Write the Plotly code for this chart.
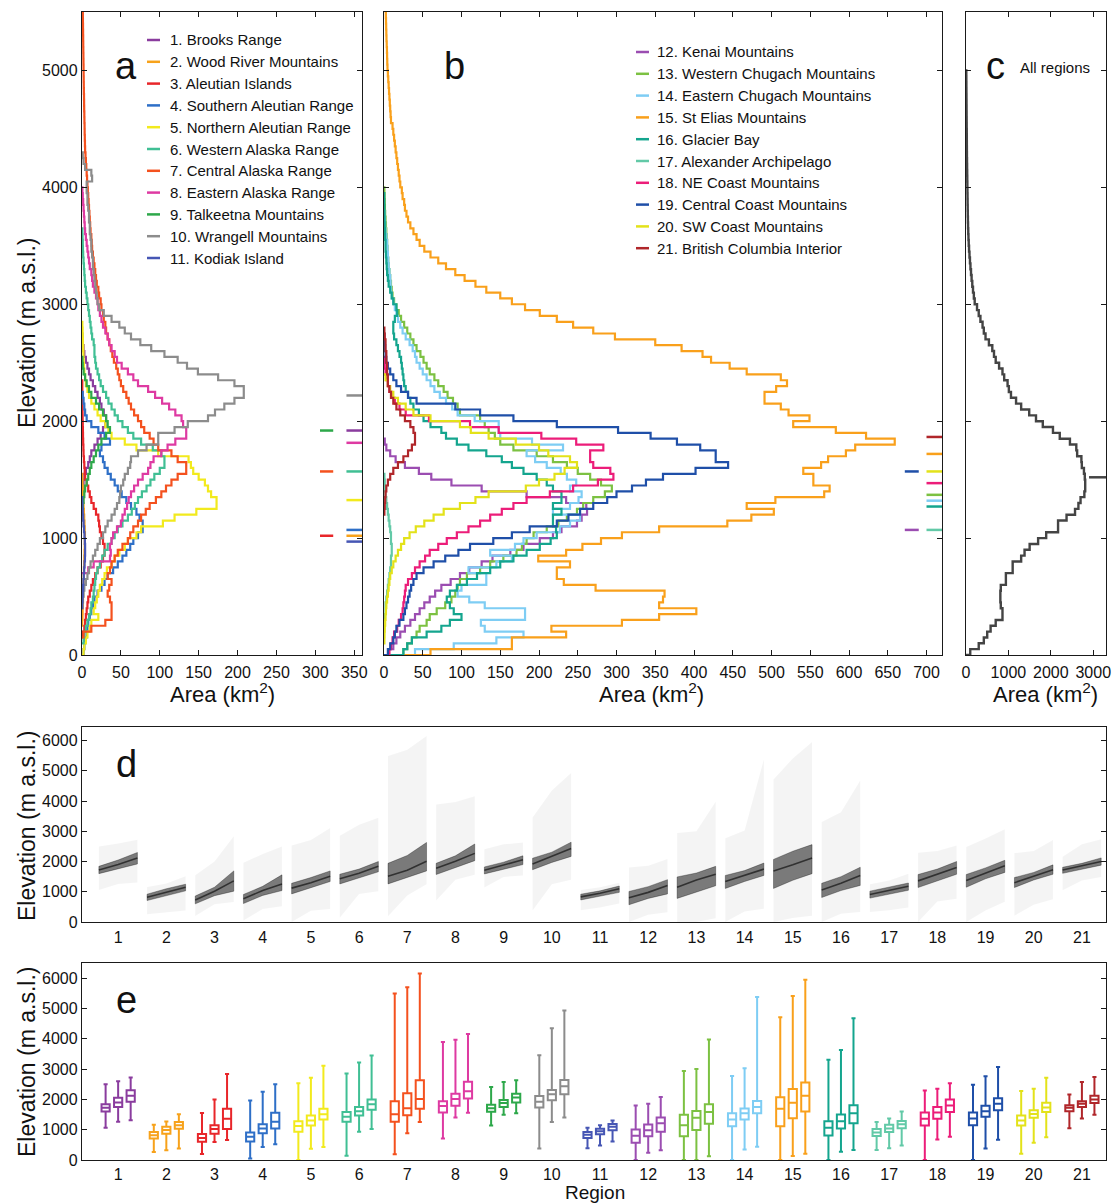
import plotly.graph_objects as go

W, H = 1112, 1204
BIN = 50  # hypsometry bin height (m)
FONT = "Liberation Sans, Arial, sans-serif"

region_names = [
    "Brooks Range", "Wood River Mountains", "Aleutian Islands", "Southern Aleutian Range",
    "Northern Aleutian Range", "Western Alaska Range", "Central Alaska Range", "Eastern Alaska Range",
    "Talkeetna Mountains", "Wrangell Mountains", "Kodiak Island", "Kenai Mountains",
    "Western Chugach Mountains", "Eastern Chugach Mountains", "St Elias Mountains", "Glacier Bay",
    "Alexander Archipelago", "NE Coast Mountains", "Central Coast Mountains", "SW Coast Mountains",
    "British Columbia Interior",
]
region_colors = [
    "#8A3C9E", "#F7A21B", "#E8262A", "#2E6FC7", "#F2EA1D", "#40BF94", "#F4511E",
    "#DE3AA2", "#2DA84A", "#8C8C8C", "#4656B4", "#9B4DB1", "#7CC142", "#7ECDF4",
    "#F9A01B", "#14A58E", "#62C9A7", "#EC1D79", "#1F4FA8", "#E3E21A", "#B0262A",
]

# Glacier area (km2) per 50 m elevation band; first band starts at hyps_start
hyps_start = [1300, 250, 150, 0, 0, 100, 150, 700, 1250, 400, 400,
              0, 0, 0, 0, 0, 300, 0, 0, 100, 1200]
hyps_01 = [0.5, 1, 1.5, 2, 3, 5, 8, 10, 12, 16, 20, 24, 27, 30, 31, 28, 25, 23, 20, 17, 14, 11, 9, 7, 5, 3, 2, 1, 0.5]
hyps_02 = [0.3, 0.6, 0.8, 1, 1.3, 1.5, 1.8, 2, 2.3, 2.5, 2.8, 3, 3.2, 3.5, 3.6, 3.8, 3.5, 3.2, 2.8, 2.4, 2, 1.6, 1.2, 0.9, 0.6, 0.3]
hyps_03 = [1, 3, 4, 5, 6, 7, 8, 10, 12, 14, 17, 20, 24, 27, 29, 29, 27, 25, 23, 22, 21, 18, 15, 12, 10, 8, 6, 4,
           3.5, 3, 2.5, 2, 1.8, 1.5, 1.3, 1.2, 1, 0.8, 0.7, 0.6, 0.5, 0.5, 0.4, 0.4]
hyps_04 = [2, 3, 4, 6, 7, 8, 10, 12, 14, 16, 20, 25, 29, 33, 40, 46, 52, 57, 62, 66, 72, 78, 78, 74, 70, 63, 57,
           51, 46, 42, 37, 33, 29, 27, 23, 25, 36, 29, 21, 12, 6, 4, 3, 2, 1]
hyps_05 = [2, 3, 5, 7, 10, 12, 21, 15, 17, 19, 21, 23, 26, 29, 32, 38, 42, 48, 55, 59, 70, 76, 104, 119, 147, 173,
           173, 166, 162, 158, 150, 143, 140, 137, 98, 70, 55, 38, 34, 30, 24, 20, 16, 12, 9, 7, 5, 4, 3, 2.5,
           2, 1.8, 1.5, 1.2, 1, 0.8, 0.5]
hyps_06 = [2, 3, 5, 7, 9, 11, 12, 14, 15, 16, 17, 18, 20, 23, 26, 29, 33, 38, 42, 46, 52, 59, 64, 68, 72, 77, 83,
           88, 93, 100, 106, 106, 102, 91, 76, 66, 59, 52, 46, 42, 38, 34, 31, 27, 24, 22, 20, 18, 17, 16, 16, 15,
           13, 12, 11, 10, 9, 8, 7, 6, 5, 4, 3.5, 3, 2.5, 2, 1.5, 1.2, 1, 0.7, 0.5]
hyps_07 = [2, 12, 30, 38, 38, 38, 36, 33, 35, 38, 33, 36, 38, 42, 46, 52, 59, 62, 66, 72, 76, 82, 87, 95, 102, 108,
           115, 123, 134, 134, 123, 115, 98, 92, 87, 80, 76, 72, 67, 63, 60, 57, 53, 50, 48, 46, 44, 41, 39, 37,
           35, 33, 31, 30, 28, 27, 25, 24, 22, 21, 19, 18, 17, 16, 15, 14, 13, 12.5, 12, 11, 10.5, 10, 9.5, 9,
           8.5, 8, 7.5, 7, 6.5, 6, 5.5, 5, 4.5, 4, 3.8, 3.6, 3.4, 3.3, 3.1, 3, 2.8, 2.7, 2.6, 2.4, 2.3, 2.2, 2.1,
           2, 1.9, 1.8, 1.7, 1.6, 1.5, 1.4, 1.3, 1.2, 1.1, 1, 0.9, 0.8, 0.7, 0.6, 0.5, 0.4, 0.3, 0.3, 0.2, 0.2, 0.1]
hyps_08 = [8, 15, 36, 37, 36, 38, 40, 45, 50, 52, 55, 58, 60, 63, 67, 72, 78, 85, 88, 92, 102, 110, 120, 134, 134,
           130, 128, 120, 112, 103, 94, 85, 72, 66, 59, 51, 45, 42, 38, 35, 33, 30, 27, 25, 23, 21, 20, 18, 16, 14,
           13, 12, 10, 9, 8, 7, 6, 5, 4, 3.5, 3, 2.5, 2, 1.5, 1, 0.5]
hyps_09 = [1, 2, 3, 4, 6, 8, 10, 12, 15, 18, 21, 25, 31, 36, 33, 31, 27, 22, 18, 12, 9, 6, 4, 2, 1, 0.5]
hyps_10 = [0.5, 1, 2, 3, 5, 7, 9, 11, 14, 17, 20, 23, 27, 30, 33, 38, 42, 45, 48, 49, 50, 53, 55, 59, 62, 63, 72,
           83, 98, 98, 119, 136, 162, 171, 183, 196, 208, 208, 196, 175, 149, 135, 123, 106, 89, 75, 63, 55, 48,
           38, 28, 22, 20, 19, 18, 17, 16, 15, 14, 14, 13, 12, 12, 11, 10, 10, 9, 9, 8, 7, 7, 6, 6, 13, 12, 4, 2, 1]
hyps_11 = [0.3, 0.6, 1, 1.4, 1.8, 2.3, 2.8, 3.3, 3.8, 4, 4, 3.7, 3.2, 2.6, 2, 1.5, 1, 0.6, 0.3]
hyps_12 = [6, 12, 16, 21, 27, 34, 40, 46, 52, 59, 66, 74, 86, 98, 110, 126, 140, 163, 180, 201, 218, 229, 249, 255,
           262, 261, 235, 184, 126, 87, 61, 45, 27, 15, 8, 3, 1]
hyps_13 = [25, 30, 36, 42, 46, 55, 59, 68, 79, 87, 92, 95, 98, 107, 124, 137, 154, 171, 178, 184, 193, 210, 225,
           236, 249, 257, 270, 285, 294, 280, 266, 250, 236, 218, 197, 167, 150, 143, 135, 130, 124, 98, 95, 89,
           82, 77, 70, 65, 59, 55, 51, 47, 42, 38, 34, 30, 26, 22, 19, 16, 13, 11, 10, 9, 8, 7, 6, 5.5, 5, 4.5, 4,
           3.5, 3, 2.5, 2, 1.5, 1.2, 1, 0.8, 0.5]
hyps_14 = [40, 90, 145, 180, 130, 125, 182, 182, 130, 110, 95, 100, 132, 132, 109, 145, 165, 137, 169, 180, 197,
           227, 240, 253, 218, 240, 251, 255, 240, 248, 236, 228, 210, 195, 184, 231, 191, 150, 148, 148, 117, 95,
           88, 80, 72, 65, 60, 55, 50, 46, 42, 40, 37, 33, 28, 24, 21, 18, 16, 14, 12, 10, 9, 8.5, 8, 7, 6, 5.5,
           5, 4.5, 4, 3, 2, 1.5, 1, 0.5]
hyps_15 = [60, 165, 165, 235, 216, 307, 355, 403, 355, 360, 362, 273, 232, 223, 223, 240, 199, 235, 256, 280, 307,
           355, 443, 474, 503, 468, 505, 568, 575, 554, 554, 541, 564, 573, 596, 608, 659, 622, 583, 528, 549, 522,
           512, 491, 491, 506, 520, 512, 468, 446, 422, 411, 384, 350, 298, 270, 244, 223, 201, 182, 165, 150, 132,
           118, 104, 92, 80, 70, 60, 52, 46, 42, 38, 34, 31, 29, 27, 26, 24, 23, 21, 20, 19, 18, 17, 16, 15, 14,
           13, 12, 11, 9, 8.5, 8, 7.5, 7, 6.5, 6, 5.5, 5, 4.5, 4.2, 4, 3.8, 3.5, 3.2, 3, 2.8, 2.6, 2.4, 2.2, 2,
           1.8, 1.6, 1.4, 1.2, 1, 0.8, 0.6, 0.4]
hyps_16 = [25, 30, 36, 55, 74, 85, 100, 90, 85, 81, 85, 94, 107, 120, 137, 150, 167, 184, 201, 215, 223, 222, 218,
           218, 229, 218, 229, 229, 218, 210, 197, 180, 165, 152, 132, 109, 94, 80, 74, 60, 51, 45, 38, 34, 31,
           28, 26, 25, 24, 23, 22, 20, 18, 16, 13, 12, 12, 14, 17, 16, 12, 10, 8, 6, 5, 4, 3.5, 3, 2.5, 2, 2,
           1.5, 1.2, 1, 0.8, 0.6, 0.5, 0.4, 0.3]
hyps_17 = [1, 2, 2, 3, 4, 5, 6, 7, 8, 9, 9, 10, 10, 9, 9, 8, 7, 6, 5, 4, 3, 2, 1.5, 1, 0.5]
hyps_18 = [7, 9, 11, 13, 17, 19, 22, 24, 25, 26, 27, 28, 31, 36, 40, 46, 53, 59, 70, 81, 94, 109, 124, 137, 152,
           167, 184, 214, 244, 276, 296, 292, 270, 266, 266, 283, 248, 203, 148, 111, 58, 28, 20, 14, 10, 7, 5,
           3, 2, 1, 0.5]
hyps_19 = [5, 8, 12, 14, 16, 20, 25, 27, 29, 31, 33, 35, 38, 42, 51, 64, 79, 96, 111, 141, 165, 188, 223, 238,
           253, 270, 288, 300, 320, 338, 360, 402, 444, 428, 428, 408, 378, 344, 302, 223, 167, 124, 92, 42, 31,
           22, 16, 12, 8, 5, 3, 2, 1.5, 1, 0.5]
hyps_20 = [0.5, 0.7, 1, 1.5, 2, 2.5, 3, 4, 5, 6, 7, 8, 10, 12, 15, 18, 22, 26, 33, 41, 52, 64, 77, 98, 118, 135,
           183, 200, 220, 233, 249, 240, 212, 200, 170, 135, 112, 98, 60, 38, 28, 18, 12, 8, 5, 2]
hyps_21 = [0.5, 1, 1.5, 2, 3, 5, 8, 12, 18, 25, 31, 36, 40, 40, 38, 34, 27, 21, 16, 12, 9, 7, 5, 5, 4, 4, 3, 3,
           2, 2, 1, 0.5]
hyps_all = [100, 300, 420, 500, 580, 700, 860, 860, 820, 810, 810, 820, 940, 940, 1100, 1100, 1300, 1380, 1500,
            1700, 1890, 2170, 2170, 2370, 2570, 2650, 2700, 2790, 2810, 2810, 2800, 2780, 2730, 2720, 2620, 2600,
            2450, 2210, 2050, 1810, 1650, 1490, 1300, 1180, 1060, 1010, 980, 900, 860, 780, 700, 660, 620, 540,
            460, 420, 390, 340, 300, 260, 205, 185, 165, 148, 132, 118, 105, 93, 82, 72, 64, 58, 53, 48, 45, 42,
            40, 38, 36, 34, 32, 30, 28, 26, 24, 22, 21, 20, 19, 18, 16, 15, 14, 13, 12, 11, 10, 9, 8, 7]

# Median glacier elevation per region (m) and the marker column it sits in
median_elev = [1920, 1020, 1020, 1070, 1325, 1570, 1570, 1815, 1920, 2220, 970,
               1070, 1370, 1320, 1720, 1270, 1070, 1470, 1570, 1570, 1865]
median_col = ["R", "R", "L", "R", "R", "R", "L", "R", "L", "R", "R",
              "L", "R", "R", "R", "R", "R", "R", "L", "R", "R"]
median_all = 1520

# Box statistics per region for (minimum, median, maximum) glacier elevation (m)
box_lower = [[1060, 1260, 1310], [260, 320, 380], [200, 590, 660], [50, 430, 520], [0, 370, 430],
             [140, 930, 1020], [190, 880, 1250], [710, 1400, 1560], [1140, 1490, 1540], [380, 1250, 1400],
             [390, 480, 610], [0, 240, 320], [0, 0, 120], [0, 350, 440], [0, 130, 210], [0, 270, 330],
             [330, 390, 480], [0, 680, 770], [0, 380, 670], [210, 570, 750], [1050, 1370, 1490]]
box_q1 = [[1600, 1750, 1920], [710, 870, 1030], [600, 870, 1020], [610, 880, 1040], [930, 1140, 1340],
          [1260, 1470, 1660], [1260, 1480, 1690], [1570, 1790, 2030], [1590, 1750, 1900], [1730, 1970, 2170],
          [730, 850, 980], [570, 780, 930], [780, 990, 1200], [1110, 1340, 1540], [1110, 1380, 1600],
          [810, 1040, 1210], [790, 920, 1050], [1140, 1360, 1580], [1150, 1430, 1640], [1140, 1390, 1580],
          [1610, 1750, 1880]]
box_median = [[1720, 1900, 2120], [820, 990, 1150], [730, 1020, 1360], [770, 1040, 1260], [1120, 1300, 1510],
              [1430, 1610, 1840], [1510, 1710, 2010], [1780, 2010, 2270], [1710, 1880, 2060], [1920, 2170, 2430],
              [830, 950, 1100], [800, 980, 1210], [1150, 1390, 1580], [1340, 1540, 1750], [1690, 1890, 2120],
              [1060, 1280, 1540], [910, 1040, 1180], [1360, 1570, 1800], [1370, 1610, 1860], [1300, 1520, 1730],
              [1720, 1860, 2000]]
box_q3 = [[1840, 2050, 2300], [920, 1100, 1250], [860, 1150, 1690], [910, 1180, 1560], [1280, 1470, 1690],
          [1580, 1750, 2000], [1940, 2200, 2630], [1940, 2190, 2580], [1820, 1980, 2190], [2110, 2310, 2640],
          [920, 1030, 1190], [1010, 1170, 1400], [1490, 1620, 1840], [1540, 1700, 1950], [2070, 2340, 2560],
          [1280, 1500, 1810], [1020, 1160, 1290], [1570, 1750, 2000], [1570, 1790, 2040], [1470, 1640, 1890],
          [1810, 1940, 2120]]
box_upper = [[2500, 2600, 2720], [1160, 1270, 1510], [1550, 2000, 2840], [1960, 2250, 2500], [2530, 2710, 3110],
             [2850, 3220, 3450], [5490, 5700, 6150], [3890, 3970, 4160], [2410, 2570, 2630], [3460, 4350, 4930],
             [1060, 1150, 1300], [1800, 1860, 2080], [2940, 3000, 3980], [2770, 3030, 5380], [4710, 5410, 5950],
             [3310, 3630, 4680], [1250, 1370, 1600], [2290, 2350, 2530], [2480, 2760, 3070], [2280, 2350, 2710],
             [2160, 2570, 2740]]

hyps = [hyps_01, hyps_02, hyps_03, hyps_04, hyps_05, hyps_06, hyps_07, hyps_08, hyps_09, hyps_10, hyps_11,
        hyps_12, hyps_13, hyps_14, hyps_15, hyps_16, hyps_17, hyps_18, hyps_19, hyps_20, hyps_21]


def px(x):
    return x / W


def py(y):
    return 1 - y / H


def step_xy(start, values):
    """Closed staircase outline of a hypsometric histogram (area on x, elevation on y)."""
    tops = [start + BIN * k for k in range(len(values) + 1)]
    xs = [0] + list(values) + [0]
    ys = [start] + tops[:-1] + [tops[-1]]
    return xs, ys


fig = go.Figure()

# ---- panels a and b: regional hypsometry ----
for i, vals in enumerate(hyps):
    xs, ys = step_xy(hyps_start[i], vals)
    ax = "" if i < 11 else "2"
    fig.add_trace(go.Scatter(x=xs, y=ys, mode="lines", xaxis="x" + ax, yaxis="y" + ax,
                             line=dict(color=region_colors[i], width=2.2, shape="vh"),
                             hoverinfo="skip", showlegend=False))

dash_a = {"L": (306, 323), "R": (340, 360)}
dash_b = {"L": (672, 690), "R": (700, 720)}
for i, elev in enumerate(median_elev):
    span = (dash_a if i < 11 else dash_b)[median_col[i]]
    ax = "" if i < 11 else "2"
    fig.add_trace(go.Scatter(x=list(span), y=[elev, elev], mode="lines", xaxis="x" + ax, yaxis="y" + ax,
                             line=dict(color=region_colors[i], width=2.5), hoverinfo="skip", showlegend=False))

# ---- panel c: all regions ----
xs, ys = step_xy(0, hyps_all)
fig.add_trace(go.Scatter(x=xs, y=ys, mode="lines", xaxis="x3", yaxis="y3",
                         line=dict(color="#444444", width=2.4, shape="vh"), hoverinfo="skip", showlegend=False))
fig.add_trace(go.Scatter(x=[2900, 3300], y=[median_all, median_all], mode="lines", xaxis="x3", yaxis="y3",
                         line=dict(color="#444444", width=2.5), hoverinfo="skip", showlegend=False))

# ---- panel d: glacier elevation ranges (min -> median -> max) ----
HALF = 0.4
for i in range(21):
    r = i + 1
    xl, xm, xr = r - HALF, r, r + HALF
    lo, q1, md, q3, hi = box_lower[i], box_q1[i], box_median[i], box_q3[i], box_upper[i]
    fig.add_trace(go.Scatter(x=[xl, xm, xr, xr, xm, xl, xl], y=[lo[0], lo[1], lo[2], hi[2], hi[1], hi[0], lo[0]],
                             mode="lines", fill="toself", fillcolor="rgba(0,0,0,0.045)", line=dict(width=0),
                             xaxis="x4", yaxis="y4", hoverinfo="skip", showlegend=False))
    fig.add_trace(go.Scatter(x=[xl, xm, xr, xr, xm, xl, xl], y=[q1[0], q1[1], q1[2], q3[2], q3[1], q3[0], q1[0]],
                             mode="lines", fill="toself", fillcolor="rgba(0,0,0,0.5)",
                             line=dict(width=1, color="rgba(0,0,0,0.3)"),
                             xaxis="x4", yaxis="y4", hoverinfo="skip", showlegend=False))
    fig.add_trace(go.Scatter(x=[xl, xm, xr], y=md, mode="lines", line=dict(width=1.6, color="rgba(0,0,0,0.6)"),
                             xaxis="x4", yaxis="y4", hoverinfo="skip", showlegend=False))

# ---- panel e: box plots ----
OFFS = [-0.26, 0.0, 0.26]
for i in range(21):
    r = i + 1
    fig.add_trace(go.Box(x=[r + o for o in OFFS], q1=box_q1[i], median=box_median[i], q3=box_q3[i],
                         lowerfence=box_lower[i], upperfence=box_upper[i], width=0.17, whiskerwidth=0.5,
                         boxpoints=False, line=dict(color=region_colors[i], width=2),
                         fillcolor="rgba(255,255,255,0)", xaxis="x5", yaxis="y5",
                         hoverinfo="skip", showlegend=False))

axis_common = dict(showline=True, linecolor="#1a1a1a", linewidth=1.3, mirror="ticks", ticks="inside",
                   ticklen=5, tickwidth=1.2, tickcolor="#1a1a1a", showgrid=False, zeroline=False,
                   automargin=False, tickfont=dict(family=FONT, size=16, color="#111111"))

top_dom = [py(655), py(12)]
fig.update_layout(
    template="none",
    width=W, height=H, autosize=False, margin=dict(l=0, r=0, t=0, b=0, pad=0),
    paper_bgcolor="white", plot_bgcolor="white", showlegend=False, boxmode="overlay",
    font=dict(family=FONT, color="#111111"),
    xaxis=dict(axis_common, domain=[px(82), px(362)], range=[0, 360], tickvals=list(range(0, 351, 50)),
               anchor="y", ticklabelstandoff=3),
    yaxis=dict(axis_common, domain=top_dom, range=[0, 5500], tickvals=list(range(0, 5001, 1000)), anchor="x"),
    xaxis2=dict(axis_common, domain=[px(384), px(942)], range=[0, 720], tickvals=list(range(0, 701, 50)),
                anchor="y2", ticklabelstandoff=3),
    yaxis2=dict(axis_common, domain=top_dom, range=[0, 5500], tickvals=list(range(0, 5001, 1000)),
                showticklabels=False, anchor="x2"),
    xaxis3=dict(axis_common, domain=[px(966), px(1106)], range=[0, 3300], tickvals=[0, 1000, 2000, 3000],
                anchor="y3", ticklabelstandoff=3),
    yaxis3=dict(axis_common, domain=top_dom, range=[0, 5500], tickvals=list(range(0, 5001, 1000)),
                showticklabels=False, anchor="x3"),
    xaxis4=dict(axis_common, domain=[px(82), px(1106)], range=[0.25, 21.5], tickvals=list(range(1, 22)),
                ticks="", mirror=True, anchor="y4", ticklabelstandoff=1),
    yaxis4=dict(axis_common, domain=[py(922), py(727)], range=[0, 6450], tickvals=list(range(0, 6001, 1000)),
                anchor="x4"),
    xaxis5=dict(axis_common, domain=[px(82), px(1106)], range=[0.25, 21.5], tickvals=list(range(1, 22)),
                ticks="", mirror=True, anchor="y5", ticklabelstandoff=0),
    yaxis5=dict(axis_common, domain=[py(1160), py(963)], range=[0, 6500], tickvals=list(range(0, 6001, 1000)),
                anchor="x5"),
)

annotations = []
shapes = []


def text(x, y, s, size, xanchor="center", yanchor="middle", angle=0):
    annotations.append(dict(x=px(x), y=py(y), xref="paper", yref="paper", text=s, showarrow=False,
                            xanchor=xanchor, yanchor=yanchor, textangle=angle,
                            font=dict(family=FONT, size=size, color="#111111")))


# legends
for k in range(11):
    y = 40 + k * 21.8
    shapes.append(dict(type="line", xref="paper", yref="paper", x0=px(147), x1=px(160), y0=py(y), y1=py(y),
                       line=dict(color=region_colors[k], width=2.5)))
    text(168, y, f"{k + 1}. {region_names[k]}", 15, xanchor="left")
for k in range(10):
    y = 52 + k * 21.8
    shapes.append(dict(type="line", xref="paper", yref="paper", x0=px(636), x1=px(649), y0=py(y), y1=py(y),
                       line=dict(color=region_colors[11 + k], width=2.5)))
    text(655, y, f"{k + 12}. {region_names[11 + k]}", 15, xanchor="left")

# panel letters
text(126, 66, "a", 38)
text(454, 66, "b", 38)
text(995, 66, "c", 38)
text(1055, 67, "All regions", 15)
text(126, 764, "d", 38)
text(126, 1000, "e", 38)

# axis titles
text(27, 333, "Elevation (m a.s.l.)", 23, angle=-90)
text(27, 826, "Elevation (m a.s.l.)", 23, angle=-90)
text(27, 1062, "Elevation (m a.s.l.)", 23, angle=-90)
text(222, 693, "Area (km<sup>2</sup>)", 22)
text(651, 693, "Area (km<sup>2</sup>)", 22)
text(1045, 693, "Area (km<sup>2</sup>)", 22)
text(595, 1192, "Region", 19)

fig.update_layout(annotations=annotations, shapes=shapes)
fig.write_html("out.html")
